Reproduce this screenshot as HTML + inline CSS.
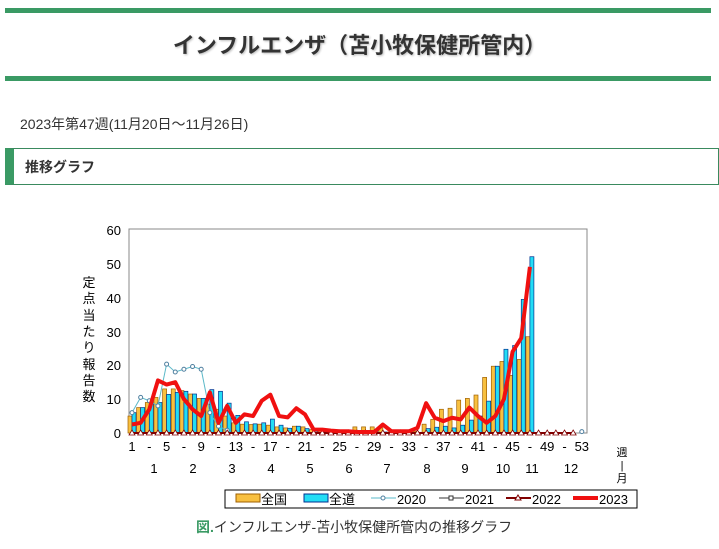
<!DOCTYPE html>
<html><head><meta charset="utf-8"><style>
body{margin:0;background:#fff;width:719px;height:549px;overflow:hidden;font-family:"Liberation Sans","Noto Sans CJK JP",sans-serif;color:#333}
.bar{position:absolute;left:5px;width:706px;height:5px;background:#3a9a64}
</style></head><body>
<div class="bar" style="top:8px"></div>
<div style="position:absolute;top:28px;left:0;width:719px;text-align:center;font-size:22px;font-weight:bold;color:#333;text-shadow:1px 1px 2px #bbb">インフルエンザ（苫小牧保健所管内）</div>
<div class="bar" style="top:76px"></div>
<div style="position:absolute;top:114px;left:20px;font-size:14px;color:#333">2023年第47週(11月20日～11月26日)</div>
<div style="position:absolute;top:148px;left:5px;width:704px;height:35px;border:1px solid #3a8a5e;border-left:9px solid #3a9a64;box-sizing:content-box"></div>
<div style="position:absolute;top:157px;left:25px;font-size:14px;font-weight:bold;color:#333">推移グラフ</div>
<svg id="c" width="719" height="549" style="position:absolute;left:0;top:0" font-family="Liberation Sans, Noto Sans CJK JP, sans-serif">
<rect x="129" y="229" width="458" height="204" fill="#fff" stroke="#888"/>
<g font-size="13" fill="#000" text-anchor="end">
<text x="121" y="235">60</text><text x="121" y="269">50</text><text x="121" y="303">40</text><text x="121" y="337">30</text><text x="121" y="370">20</text><text x="121" y="404">10</text><text x="121" y="438">0</text>
</g>
<g font-size="13" fill="#000" text-anchor="middle">
<text x="89" y="287">定</text><text x="89" y="303">点</text><text x="89" y="320">当</text><text x="89" y="336">た</text><text x="89" y="352">り</text><text x="89" y="369">報</text><text x="89" y="385">告</text><text x="89" y="401">数</text>
<text x="622" y="456" font-size="11">週</text><text x="622" y="469" font-size="11">|</text><text x="622" y="482" font-size="11">月</text>
</g>
<g font-size="13" fill="#000" text-anchor="middle" id="xl"></g>
<g font-size="13" fill="#000" text-anchor="middle">
<text x="154" y="473">1</text><text x="193" y="473">2</text><text x="232" y="473">3</text><text x="271" y="473">4</text><text x="310" y="473">5</text><text x="349" y="473">6</text><text x="387" y="473">7</text><text x="427" y="473">8</text><text x="465" y="473">9</text><text x="503" y="473">10</text><text x="532" y="473">11</text><text x="571" y="473">12</text>
</g>
<g id="d"></g>
<rect x="225" y="490" width="412" height="18" fill="#fff" stroke="#000"/>
<rect x="236" y="494" width="24" height="8" fill="#f8c040" stroke="#a06000"/>
<text x="261" y="504" font-size="13">全国</text>
<rect x="304" y="494" width="24" height="8" fill="#22ddf5" stroke="#003090"/>
<text x="329" y="504" font-size="13">全道</text>
<line x1="371" y1="498" x2="396" y2="498" stroke="#5ab8c8"/><circle cx="383" cy="498" r="2" fill="#fff" stroke="#5080a0"/>
<text x="397" y="504" font-size="13">2020</text>
<line x1="439" y1="498" x2="464" y2="498" stroke="#333"/><rect x="449" y="496" width="4" height="4" fill="#fff" stroke="#333"/>
<text x="465" y="504" font-size="13">2021</text>
<line x1="506" y1="498" x2="531" y2="498" stroke="#800000" stroke-width="2"/><path d="M518,495 L521,500 L515,500Z" fill="#fff" stroke="#800000"/>
<text x="532" y="504" font-size="13">2022</text>
<line x1="573" y1="498" x2="598" y2="498" stroke="#f01010" stroke-width="4"/>
<text x="599" y="504" font-size="13">2023</text>
<text x="196" y="532" font-size="14" fill="#333"><tspan fill="#3a9a64" font-weight="bold">図.</tspan>インフルエンザ-苫小牧保健所管内の推移グラフ</text>
</svg>
<script>
var X=function(w){return 132+(w-1)*8.65},Y=function(v){return 433-v*3.39};
var kn=[5,7.5,9,10.5,13,13,12.5,11.5,10.2,8.5,7,5,3,2.6,2.5,2.6,2.3,1.8,1.5,2,1.8,1,0.8,0.7,0.6,0.6,1.8,1.8,1.8,1.5,0.3,0.5,0.5,0.5,2.6,4,7,7.3,9.7,10.2,11.2,16.4,19.7,21.1,17,21.7,28.4];
var hk=[6,7.5,9,9,11.4,12,12.3,11.5,10.2,12.8,12.3,8.8,5.2,3.3,2.7,3,4.1,2.3,1.4,2,1.3,0.6,0.4,0.3,0.3,0.3,0.3,0.3,0.3,0.3,0.2,0.2,0.2,0.2,1.3,1.7,2,1.5,2.3,3.8,5,9.4,19.7,24.7,25.8,39.4,52];
var r23=[2.5,3,7,15.5,14.3,15,10,7,5,12,3,8,3,5.5,5,9.5,11.3,5,4.6,7.3,5.5,1,1,0.7,0.5,0.5,0.3,0.3,0.3,2.5,0.5,0.5,0.5,1.5,8.8,4.5,3.5,4.5,4,7.5,5,3,5,10,24,28,49];
var r20=[6,10.5,9.5,8,20.3,18,18.8,19.6,18.8,6,2,0.8];
var s='';
for(var i=0;i<47;i++){var x=X(i+1);
s+='<rect x="'+(x-4)+'" y="'+Y(kn[i])+'" width="4" height="'+(kn[i]*3.39)+'" fill="#f8c040" stroke="#a06000" stroke-width="0.7"/>';
s+='<rect x="'+x+'" y="'+Y(hk[i])+'" width="4" height="'+(hk[i]*3.39)+'" fill="#22ddf5" stroke="#003090" stroke-width="0.7"/>';}
var p=[];for(i=0;i<12;i++)p.push(X(i+1)+','+Y(r20[i]));
s+='<polyline points="'+p.join(' ')+'" fill="none" stroke="#5ab8c8"/>';
for(i=0;i<12;i++)s+='<circle cx="'+X(i+1)+'" cy="'+Y(r20[i])+'" r="2" fill="#fff" stroke="#5080a0"/>';
s+='<circle cx="'+X(53)+'" cy="'+Y(0.4)+'" r="2" fill="#fff" stroke="#5080a0"/>';
s+='<line x1="'+X(1)+'" y1="433" x2="'+X(52)+'" y2="433" stroke="#800000" stroke-width="2"/>';
for(i=1;i<=52;i++)s+='<path d="M'+X(i)+',430 L'+(X(i)+3)+',435 L'+(X(i)-3)+',435Z" fill="#fff" stroke="#800000" stroke-width="0.8"/>';
p=[];for(i=0;i<47;i++)p.push(X(i+1)+','+Y(r23[i]));
s+='<polyline points="'+p.join(' ')+'" fill="none" stroke="#f01010" stroke-width="4" stroke-linejoin="round"/>';
document.getElementById('d').innerHTML=s;
var t='';for(i=1;i<=53;i+=2){t+='<text x="'+X(i)+'" y="451">'+(((i-1)/2)%2==0?i:'-')+'</text>';}
document.getElementById('xl').innerHTML=t;
</script>
</body></html>
